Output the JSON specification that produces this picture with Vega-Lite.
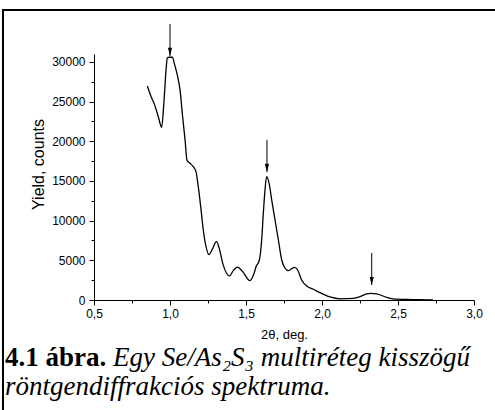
{
  "$schema": "https://vega.github.io/schema/vega-lite/v6.json",
  "width": 380,
  "height": 246,
  "autosize": {"type": "none"},
  "padding": {"left": 94, "top": 54, "right": 21, "bottom": 110},
  "background": "white",
  "config": {
    "view": {"stroke": null},
    "font": "Liberation Sans",
    "axis": {
      "domainColor": "black", "tickColor": "black", "labelColor": "black", "titleColor": "black",
      "grid": false, "labelFont": "Liberation Sans", "titleFont": "Liberation Sans",
      "labelFontSize": 12, "titleFontSize": 13, "titleFontWeight": "normal", "domainWidth": 1, "tickWidth": 1
    }
  },
  "datasets": {
    "spectrum": [
      {"angle": 0.851, "counts": 26975}, {"angle": 0.88, "counts": 25420}, {"angle": 0.895, "counts": 24790},
      {"angle": 0.923, "counts": 23100}, {"angle": 0.945, "counts": 21770}, {"angle": 0.961, "counts": 25210},
      {"angle": 0.974, "counts": 28990}, {"angle": 0.982, "counts": 30470}, {"angle": 0.993, "counts": 30590},
      {"angle": 1.015, "counts": 30590}, {"angle": 1.031, "counts": 29620}, {"angle": 1.048, "counts": 28360},
      {"angle": 1.066, "counts": 26470}, {"angle": 1.083, "counts": 23100}, {"angle": 1.099, "counts": 20170},
      {"angle": 1.112, "counts": 17600}, {"angle": 1.132, "counts": 17230}, {"angle": 1.153, "counts": 16800},
      {"angle": 1.171, "counts": 16170}, {"angle": 1.186, "counts": 14280}, {"angle": 1.202, "counts": 11760},
      {"angle": 1.219, "counts": 8820}, {"angle": 1.237, "counts": 6720}, {"angle": 1.256, "counts": 5720},
      {"angle": 1.281, "counts": 6510}, {"angle": 1.305, "counts": 7350}, {"angle": 1.324, "counts": 6510},
      {"angle": 1.347, "counts": 4620}, {"angle": 1.392, "counts": 3030}, {"angle": 1.416, "counts": 3700},
      {"angle": 1.445, "counts": 4150}, {"angle": 1.478, "counts": 3570}, {"angle": 1.526, "counts": 2440},
      {"angle": 1.553, "counts": 3360}, {"angle": 1.566, "counts": 4200}, {"angle": 1.588, "counts": 5040},
      {"angle": 1.603, "counts": 7560}, {"angle": 1.614, "counts": 10930}, {"angle": 1.625, "counts": 13870},
      {"angle": 1.636, "counts": 15540}, {"angle": 1.654, "counts": 14500}, {"angle": 1.669, "counts": 12610},
      {"angle": 1.691, "counts": 10080}, {"angle": 1.713, "counts": 7560}, {"angle": 1.735, "counts": 5040},
      {"angle": 1.757, "counts": 4000}, {"angle": 1.778, "counts": 3700}, {"angle": 1.818, "counts": 4120},
      {"angle": 1.84, "counts": 3780}, {"angle": 1.866, "counts": 2520}, {"angle": 1.899, "counts": 1760},
      {"angle": 1.943, "counts": 1350}, {"angle": 1.998, "counts": 840}, {"angle": 2.053, "counts": 380},
      {"angle": 2.118, "counts": 150}, {"angle": 2.206, "counts": 210}, {"angle": 2.25, "counts": 420},
      {"angle": 2.294, "counts": 760}, {"angle": 2.32, "counts": 840}, {"angle": 2.36, "counts": 760},
      {"angle": 2.426, "counts": 340}, {"angle": 2.491, "counts": 100}, {"angle": 2.557, "counts": 80},
      {"angle": 2.645, "counts": 30}, {"angle": 2.73, "counts": 0}
    ],
    "arrows": [
      {"angle": 1.0, "top": 34790, "tip": 30756},
      {"angle": 1.638, "top": 20168, "tip": 16134},
      {"angle": 2.327, "top": 5924, "tip": 1890}
    ]
  },
  "resolve": {"axis": {"x": "independent", "y": "independent"}},
  "layer": [
    {
      "data": {"name": "spectrum"},
      "mark": {"type": "line", "color": "black", "strokeWidth": 1.3, "interpolate": "monotone", "clip": false},
      "encoding": {
        "x": {"field": "angle", "type": "quantitative", "scale": {"domain": [0.5, 3.0], "nice": false, "zero": false},
          "axis": {"values": [0.5, 1.0, 1.5, 2.0, 2.5, 3.0], "format": ".1f", "labelExpr": "replace(datum.label, '.', ',')",
            "title": "2θ, deg.", "tickSize": 5, "labelPadding": 3, "titlePadding": 9, "labelFlush": false}},
        "y": {"field": "counts", "type": "quantitative", "scale": {"domain": [0, 31000], "nice": false},
          "axis": {"values": [0, 5000, 10000, 15000, 20000, 25000, 30000], "format": "d", "title": "Yield, counts",
            "titleFontSize": 16, "titleY": 110, "tickSize": 5, "labelPadding": 4, "titlePadding": 5}}
      }
    },
    {
      "data": {"name": "arrows"},
      "mark": {"type": "rule", "color": "black", "strokeWidth": 1},
      "encoding": {
        "x": {"field": "angle", "type": "quantitative", "scale": {"domain": [0.5, 3.0], "nice": false, "zero": false},
          "axis": {"values": [0.75, 1.25, 1.75, 2.25, 2.75], "labels": false, "domain": false, "tickSize": 3, "title": null, "orient": "bottom"}},
        "y": {"field": "top", "type": "quantitative", "scale": {"domain": [0, 31000], "nice": false},
          "axis": {"values": [2500, 7500, 12500, 17500, 22500, 27500], "labels": false, "domain": false, "tickSize": 3, "title": null, "orient": "left"}},
        "y2": {"field": "tip"}
      }
    },
    {
      "data": {"name": "arrows"},
      "mark": {"type": "point", "shape": "M-0.7,-2.7L0.7,-2.7L0,0Z", "size": 36, "filled": true, "color": "black", "opacity": 1},
      "encoding": {
        "x": {"field": "angle", "type": "quantitative", "scale": {"domain": [0.5, 3.0], "nice": false, "zero": false}, "axis": null},
        "y": {"field": "tip", "type": "quantitative", "scale": {"domain": [0, 31000], "nice": false}, "axis": null}
      }
    },
    {
      "data": {"values": [{}]},
      "mark": {"type": "rect", "fill": null, "stroke": "black", "strokeWidth": 2, "clip": false},
      "encoding": {
        "x": {"datum": -0.0987, "type": "quantitative", "scale": {"domain": [0.5, 3.0], "nice": false, "zero": false}, "axis": null},
        "x2": {"datum": 3.3},
        "y": {"datum": 36545, "type": "quantitative", "scale": {"domain": [0, 31000], "nice": false}, "axis": null},
        "y2": {"datum": -16000}
      }
    },
    {
      "data": {"values": [{}]},
      "mark": {"type": "text", "font": "Liberation Serif", "fontSize": 27, "fontWeight": "bold", "align": "left", "baseline": "alphabetic", "color": "black"},
      "encoding": {
        "text": {"value": "4.1 ábra."},
        "x": {"datum": -0.0855, "type": "quantitative", "scale": {"domain": [0.5, 3.0], "nice": false, "zero": false}, "axis": null},
        "y": {"datum": -8380, "type": "quantitative", "scale": {"domain": [0, 31000], "nice": false}, "axis": null}
      }
    },
    {
      "data": {"values": [{}]},
      "mark": {"type": "text", "font": "Liberation Serif", "fontSize": 27, "fontStyle": "italic", "align": "left", "baseline": "alphabetic", "color": "black"},
      "encoding": {
        "text": {"value": "Egy Se/As₂S₃ multiréteg kisszögű"},
        "x": {"datum": 0.625, "type": "quantitative", "scale": {"domain": [0.5, 3.0], "nice": false, "zero": false}, "axis": null},
        "y": {"datum": -8380, "type": "quantitative", "scale": {"domain": [0, 31000], "nice": false}, "axis": null}
      }
    },
    {
      "data": {"values": [{}]},
      "mark": {"type": "text", "font": "Liberation Serif", "fontSize": 27, "fontStyle": "italic", "align": "left", "baseline": "alphabetic", "color": "black"},
      "encoding": {
        "text": {"value": "röntgendiffrakciós spektruma."},
        "x": {"datum": -0.0855, "type": "quantitative", "scale": {"domain": [0.5, 3.0], "nice": false, "zero": false}, "axis": null},
        "y": {"datum": -12030, "type": "quantitative", "scale": {"domain": [0, 31000], "nice": false}, "axis": null}
      }
    }
  ]
}
